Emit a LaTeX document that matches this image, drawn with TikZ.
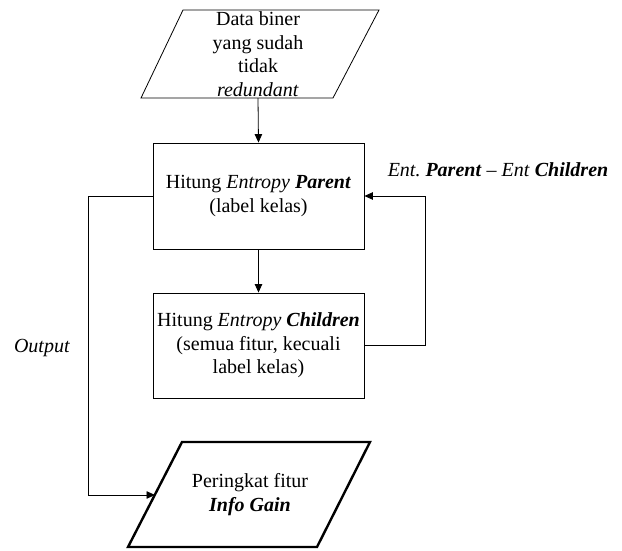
\documentclass[tikz,border=0pt]{standalone}
\usepackage{fontspec}
\setmainfont{Liberation Serif}
\usetikzlibrary{arrows.meta}
\frenchspacing
\begin{document}
\begin{tikzpicture}[x=1pt,y=-1pt,
  every node/.style={font=\fontsize{20}{23.5}\selectfont},
  procbox/.style={draw,line width=0.9pt,minimum width=211pt,inner sep=0pt,align=center},
  txt/.style={inner sep=0pt,align=center},
  link/.style={line width=0.8pt,-{Triangle[length=8.5pt,width=7.5pt]}},
  plain/.style={line width=0.8pt}]
\useasboundingbox (0,0) rectangle (622,551);

% input: data without redundancy
\draw[line width=0.8pt] (183,10) -- (379,10) -- (333,98) -- (141,98) -- cycle;
\node[txt,minimum height=88pt] (data) at (258,54)
  {Data biner\\yang sudah\\tidak\\\textit{redundant}};

% processing steps
\node[procbox,minimum height=106pt] (parent) at (258.5,196)
  {Hitung \textit{Entropy} \textbf{\textit{Parent}}\\(label kelas)};
\node[procbox,minimum height=105pt] (children) at (258.5,345.5)
  {Hitung \textit{Entropy} \textbf{\textit{Children}}\\(semua fitur, kecuali\\label kelas)};

% output: feature ranking
\draw[line width=2.4pt] (182,442) -- (370,442) -- (317,547) -- (128,547) -- cycle;
\node[txt,minimum height=105pt] (rank) at (250,494.5)
  {Peringkat fitur\\\textbf{\textit{Info Gain}}};
\coordinate (rankIn) at (155,495);

% connectors
\draw[link] (data.south) -- (parent.north);
\draw[link] (parent.south) -- (children.north);
\draw[link] (children.east) -- (425,345.5) |- (parent.east);
\draw[link] (parent.west) -- (88,196) |- (rankIn);

% edge labels
\node[txt] (gainlbl) at (498,170)
  {\textit{Ent.} \textbf{\textit{Parent}} \textit{--} \textit{Ent} \textbf{\textit{Children}}};
\node[txt] (outlbl) at (42,348) {\textit{Output}};
\end{tikzpicture}
\end{document}
